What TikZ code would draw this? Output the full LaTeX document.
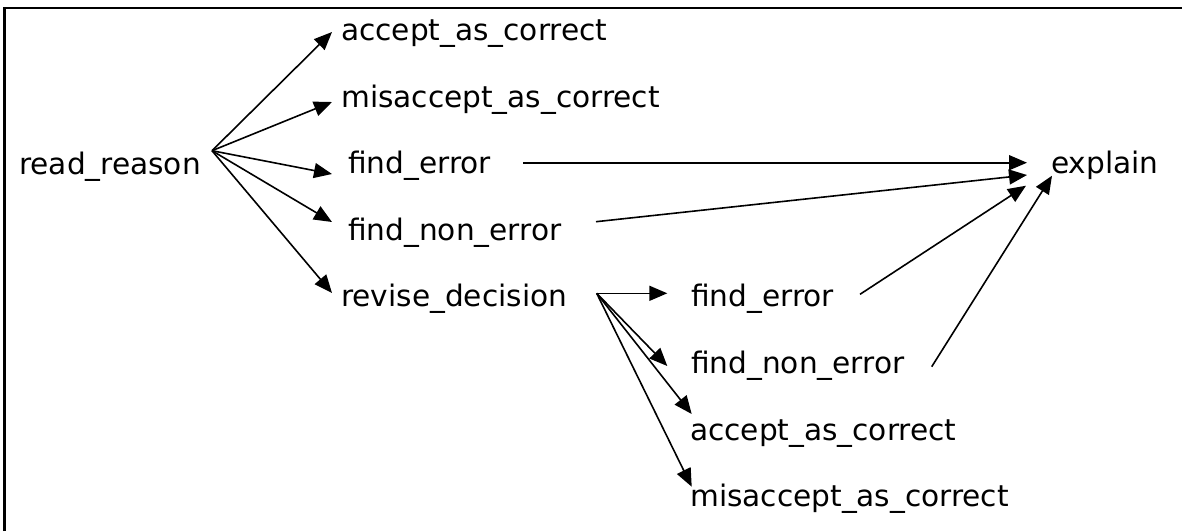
\documentclass[tikz,border=0pt]{standalone}
\usepackage{fontspec}
\setmainfont{DejaVu Sans}
\usetikzlibrary{arrows.meta}
\begin{document}
\begin{tikzpicture}[x=1pt,y=-1pt,
  lbl/.style={anchor=base west,inner sep=0pt,font=\fontsize{29.6}{34}\selectfont},
  arr/.style={line width=1.6pt,-{Triangle[length=18pt,width=15pt]}}]
\useasboundingbox (0,0) rectangle (1182,531);
\draw[line width=2.3pt] (4.6,531) -- (4.6,7.7) -- (1182,7.7);
% nodes
\node[lbl] (rr)  at (19,174) {read\_reason};
\node[lbl] (ac1) at (341,40) {accept\_as\_correct};
\node[lbl] (ma1) at (341,107) {misaccept\_as\_correct};
\node[lbl] (fe1) at (348,173) {find\_error};
\node[lbl] (fn1) at (348,240) {find\_non\_error};
\node[lbl] (rd)  at (341,306.7) {revise\_decision};
\node[lbl] (ex)  at (1051,173.3) {explain};
\node[lbl] (fe2) at (691,306.7) {find\_error};
\node[lbl] (fn2) at (691,373) {find\_non\_error};
\node[lbl] (ac2) at (690,440) {accept\_as\_correct};
\node[lbl] (ma2) at (690,506.7) {misaccept\_as\_correct};
% connector end points
\coordinate (rrO) at (212,150.7);
\coordinate (tac1) at (332,32);
\coordinate (tma1) at (332,102);
\coordinate (tfe1) at (332,174);
\coordinate (tfn1) at (332,222);
\coordinate (trd) at (332,293);
\coordinate (fe1O) at (523,162.7);
\coordinate (fn1O) at (596,221.7);
\coordinate (ex1) at (1027,162.7);
\coordinate (ex2) at (1027,175);
\coordinate (ex3) at (1026,185.7);
\coordinate (ex4) at (1052,175.7);
\coordinate (fe2O) at (860,294.3);
\coordinate (fn2O) at (931.7,366.7);
\coordinate (rdO) at (596.7,293.3);
\coordinate (tfe2) at (667.3,293.3);
\coordinate (tfn2) at (667.3,366);
\coordinate (tac2) at (691.7,414);
\coordinate (tma2) at (691.7,486.7);
% connectors
\draw[arr] (rrO) -- (tac1);
\draw[arr] (rrO) -- (tma1);
\draw[arr] (rrO) -- (tfe1);
\draw[arr] (rrO) -- (tfn1);
\draw[arr] (rrO) -- (trd);
\draw[arr] (fe1O) -- (ex1);
\draw[arr] (fn1O) -- (ex2);
\draw[arr] (fe2O) -- (ex3);
\draw[arr] (fn2O) -- (ex4);
\draw[arr] (rdO) -- (tfe2);
\draw[arr] (rdO) -- (tfn2);
\draw[arr] (rdO) -- (tac2);
\draw[arr] (rdO) -- (tma2);
\end{tikzpicture}
\end{document}
